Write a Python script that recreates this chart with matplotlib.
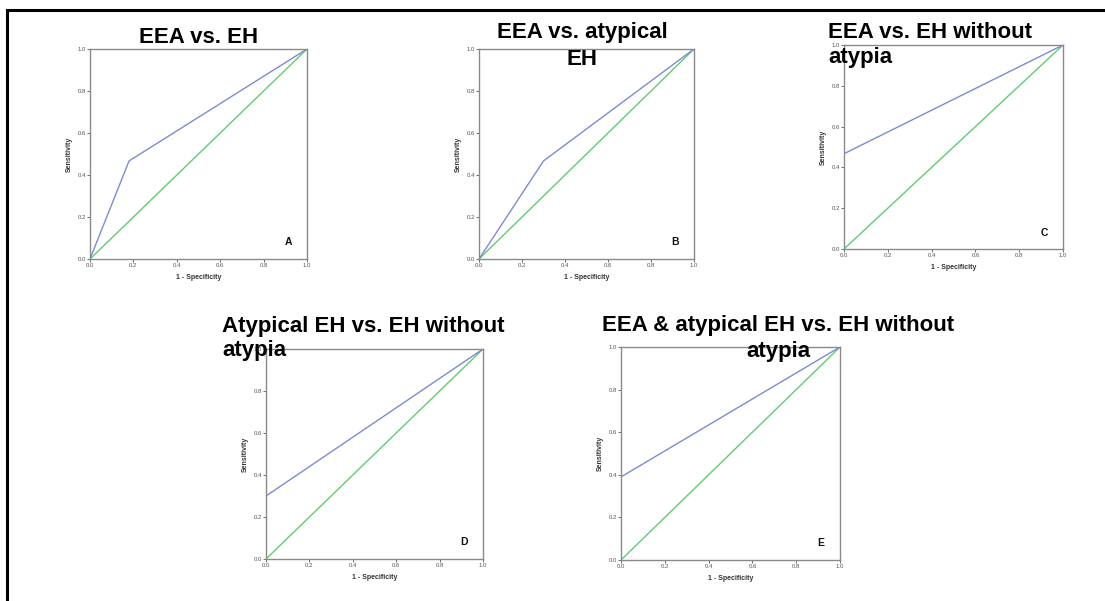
import matplotlib
matplotlib.use("Agg")
import matplotlib.pyplot as plt
from matplotlib.lines import Line2D

plt.rcParams['font.family'] = ['Liberation Sans', 'DejaVu Sans']

W, H = 1105, 601

# ROC data (1 - specificity, sensitivity) for each panel
roc_A_x = [0.0, 0.18, 1.0]
roc_A_y = [0.0, 0.467, 1.0]
roc_B_x = [0.0, 0.30, 1.0]
roc_B_y = [0.0, 0.467, 1.0]
roc_C_x = [0.0, 0.0, 1.0]
roc_C_y = [0.0, 0.467, 1.0]
roc_D_x = [0.0, 0.0, 1.0]
roc_D_y = [0.0, 0.30, 1.0]
roc_E_x = [0.0, 0.0, 1.0]
roc_E_y = [0.0, 0.39, 1.0]
ref_x = [0.0, 1.0]
ref_y = [0.0, 1.0]
tick_vals = [0.0, 0.2, 0.4, 0.6, 0.8, 1.0]
tick_labels = ["0.0", "0.2", "0.4", "0.6", "0.8", "1.0"]
letters = ["A", "B", "C", "D", "E"]

BLUE = "#7d8bd2"
GREEN = "#62cc72"

fig = plt.figure(figsize=(W / 100, H / 100), dpi=100)

def add_ax(x0, y0, x1, y1):
    return fig.add_axes([x0 / W, 1 - y1 / H, (x1 - x0) / W, (y1 - y0) / H])

panels = [
    ((90, 49, 307, 259), roc_A_x, roc_A_y),
    ((479, 49, 694, 259), roc_B_x, roc_B_y),
    ((844, 45, 1063, 249), roc_C_x, roc_C_y),
    ((266, 349, 483, 559), roc_D_x, roc_D_y),
    ((621, 347, 840, 560), roc_E_x, roc_E_y),
]

for (rect, xs, ys), letter in zip(panels, letters):
    ax = add_ax(*rect)
    ax.plot(ref_x, ref_y, color=GREEN, lw=1.0, solid_capstyle='butt')
    ax.plot(xs, ys, color=BLUE, lw=1.0, solid_capstyle='butt')
    ax.set_xlim(0, 1)
    ax.set_ylim(0, 1)
    ax.set_xticks(tick_vals)
    ax.set_xticklabels(tick_labels)
    ax.set_yticks(tick_vals)
    ax.set_yticklabels(tick_labels)
    ax.tick_params(axis='both', labelsize=4.3, colors='#555555', length=2, width=0.6, pad=1)
    for s in ax.spines.values():
        s.set_color('#8a8a8a')
        s.set_linewidth(1.0)
    ax.set_xlabel("1 - Specificity", fontsize=5, fontweight='bold', color='#333333', labelpad=4)
    ax.set_ylabel("Sensitivity", fontsize=5, fontweight='bold', color='#333333', labelpad=3)
    ax.text(0.93, 0.055, letter, transform=ax.transAxes, ha='right', va='bottom',
            fontsize=7.5, fontweight='bold', color='#111111')

def title(x, y, s, ha):
    fig.text(x / W, 1 - y / H, s, ha=ha, va='baseline', fontsize=16,
             fontweight='bold', color='black', zorder=10)

title(199, 43, "EEA vs. EH", 'center')
title(582, 38, "EEA vs. atypical", 'center')
title(582, 65, "EH", 'center')
title(828, 38, "EEA vs. EH without", 'left')
title(828, 63, "atypia", 'left')
title(222, 332, "Atypical EH vs. EH without", 'left')
title(222, 356, "atypia", 'left')
title(602, 331, "EEA & atypical EH vs. EH without", 'left')
title(778, 357, "atypia", 'center')

# page frame lines
fig.add_artist(Line2D([7 / W, 1.0], [1 - 9.5 / H, 1 - 9.5 / H], color='black', lw=2.2,
                      transform=fig.transFigure))
fig.add_artist(Line2D([7 / W, 7 / W], [1 - 9.5 / H, 0.0], color='black', lw=2.2,
                      transform=fig.transFigure))

fig.savefig("out.png", dpi=100)
